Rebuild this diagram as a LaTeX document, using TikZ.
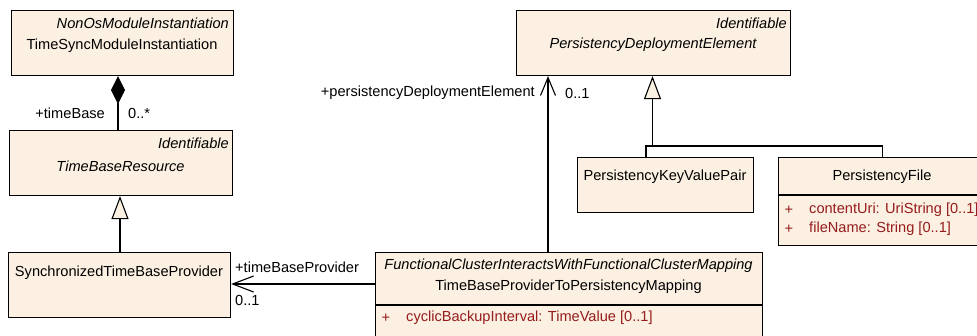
\documentclass[tikz,border=0pt]{standalone}
\usepackage{fontspec}
\setmainfont{Liberation Sans}
\usepackage{tikz}
\usetikzlibrary{arrows.meta,calc}
\definecolor{umlfill}{RGB}{251,240,226}
\definecolor{attrred}{RGB}{150,28,28}
\tikzset{
  txt/.style={inner sep=0pt,font=\fontsize{14.6}{17}\selectfont},
  ster/.style={txt,font=\fontsize{14.6}{17}\selectfont\itshape},
  attr/.style={txt,text=attrred,anchor=west},
  cls/.style={draw,fill=umlfill,line width=1.1pt,anchor=north west,inner sep=0pt},
  comp/.style={{Diamond[length=28pt,width=14pt,fill=black]}-,line width=1.1pt},
  gen/.style={-{Triangle[length=23pt,width=17pt,fill=umlfill]},line width=1.1pt},
  assoc/.style={-{Straight Barb[length=18pt,width=15pt]},line width=1.1pt},
}
\begin{document}
\begin{tikzpicture}[x=1pt,y=-1pt]
\useasboundingbox (0,0) rectangle (977,335);
\clip (0,0) rectangle (977,335);
% classes
\node[cls,minimum width=222pt,minimum height=65pt] (tsmi) at (11,10) {};
\node[cls,minimum width=223pt,minimum height=65pt] (tbr) at (9,130) {};
\node[cls,minimum width=222pt,minimum height=65pt] (stbp) at (8,252) {};
\node[cls,minimum width=387pt,minimum height=100pt] (tbpm) at (375,252) {};
\node[cls,minimum width=274pt,minimum height=65pt] (pde) at (516,10) {};
\node[cls,minimum width=176pt,minimum height=55pt] (pkvp) at (577,157) {};
\node[cls,minimum width=208pt,minimum height=88pt] (pfile) at (778,157) {};
% compartments
\draw[line width=1.1pt] ($(tbpm.north west)+(0,53)$) -- ($(tbpm.north east)+(0,53)$);
\draw[line width=1.1pt] ($(pfile.north west)+(0,38)$) -- ($(pfile.north east)+(0,38)$);
% texts
\node[ster,anchor=east] (tsmi-st) at (229,23) {NonOsModuleInstantiation};
\node[txt] (tsmi-nm) at (122,46) {TimeSyncModuleInstantiation};
\node[ster,anchor=east] (tbr-st) at (229,143) {Identifiable};
\node[ster] (tbr-nm) at (120.5,166) {TimeBaseResource};
\node[txt] (stbp-nm) at (119,273) {SynchronizedTimeBaseProvider};
\node[ster] (tbpm-st) at (568.5,266) {FunctionalClusterInteractsWithFunctionalClusterMapping};
\node[txt] (tbpm-nm) at (568.5,287) {TimeBaseProviderToPersistencyMapping};
\node[txt,text=attrred] (tbpm-p1) at (386,318) {+};
\node[attr] (tbpm-a1) at (406,318) {cyclicBackupInterval: TimeValue [0..1]};
\node[ster,anchor=east] (pde-st) at (787,23) {Identifiable};
\node[ster] (pde-nm) at (653,45) {PersistencyDeploymentElement};
\node[txt] (pkvp-nm) at (665,177) {PersistencyKeyValuePair};
\node[txt] (pfile-nm) at (882,177) {PersistencyFile};
\node[txt,text=attrred] (pfile-p1) at (789,210) {+};
\node[attr] (pfile-a1) at (809,210) {contentUri: UriString [0..1]};
\node[txt,text=attrred] (pfile-p2) at (789,229) {+};
\node[attr] (pfile-a2) at (809,229) {fileName: String [0..1]};
% connectors
\draw[comp] ($(tsmi.south west)+(107,0)$) -- ($(tbr.north west)+(109,0)$);
\node[txt,anchor=east] (tb-role) at (105,113) {+timeBase};
\node[txt,anchor=west] (tb-mult) at (128,113) {0..*};
\draw[gen] ($(stbp.north west)+(112,0)$) -- ($(tbr.south west)+(111,0)$);
\draw[assoc,-{Straight Barb[length=21pt,width=16pt]}] (tbpm.west |- 0,284) -- (stbp.east |- 0,284);
\node[txt,anchor=west] (tbp-role) at (235,267) {+timeBaseProvider};
\node[txt,anchor=west] (tbp-mult) at (235,300) {0..1};
\draw[assoc] ($(tbpm.north west)+(173,0)$) -- ($(pde.south west)+(32,0)$);
\node[txt,anchor=east] (pde-role) at (535,93) {+persistencyDeploymentElement};
\node[txt,anchor=west] (pde-mult) at (565,93) {0..1};
\coordinate (gjoin) at (652.5,146);
\draw[gen] (gjoin) -- (pde.south west -| gjoin);
\draw[line width=1.1pt] ($(pkvp.north west)+(69,0)$) |- (gjoin) -| (pfile.north);
\end{tikzpicture}
\end{document}
